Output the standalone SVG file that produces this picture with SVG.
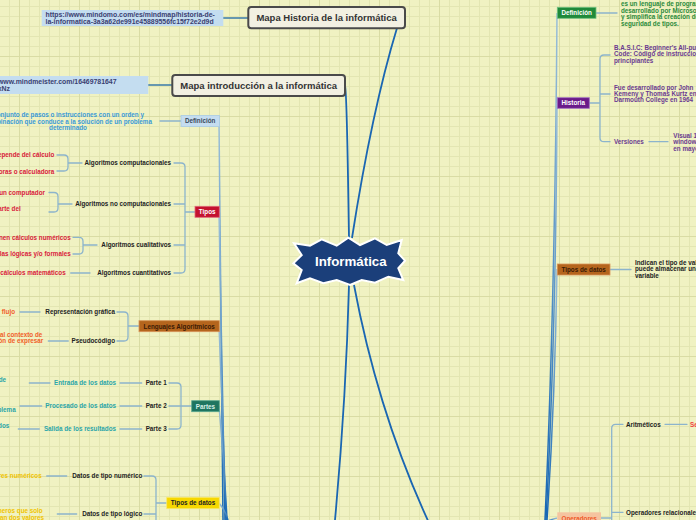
<svg xmlns="http://www.w3.org/2000/svg" width="696" height="520" viewBox="0 0 696 520">
<defs>
<pattern id="grid" width="60" height="60" patternUnits="userSpaceOnUse" x="19" y="56">
<path d="M10.5,0V60M20.5,0V60M30.5,0V60M40.5,0V60M50.5,0V60M0,10.5H60M0,20.5H60M0,30.5H60M0,40.5H60M0,50.5H60" stroke="#e3e6b2" stroke-width="1" fill="none"/>
<path d="M0.5,0V60M0,0.5H60" stroke="#d9dca4" stroke-width="1" fill="none"/>
</pattern>
<linearGradient id="gl" x1="0" y1="0" x2="0" y2="1">
<stop offset="0" stop-color="#9cc0d8"/>
<stop offset="1" stop-color="#1566b4"/>
</linearGradient>
</defs>
<style>
text{font-family:"Liberation Sans",Arial,sans-serif;font-weight:bold;font-size:6.3px}
.e{text-anchor:end}
.m{text-anchor:middle}
.blk{fill:#222}
.br{fill:none;stroke:#8cb4cc;stroke-width:1.3;stroke-linecap:round}
.main{fill:none;stroke:#1a66b2;stroke-width:1.8}
.bund{fill:none;stroke:url(#gl);stroke-width:1.5}
.lnk{fill:none;stroke:#3a7aa8;stroke-width:1.5}
.map{fill:#f2f0e2;stroke:#4a4a4a;stroke-width:2}
.mapt{font-size:9.5px;fill:#333}
.url{fill:#c4ddf0}
.urlt{font-size:6.9px;fill:#3a4070}
.red{fill:#d8203a}
.org{fill:#f0602a}
.teal{fill:#2aa5a8}
.yel{fill:#f0c400}
.grn{fill:#2a8a3a}
.pur{fill:#6a3a90}
</style>
<rect width="696" height="520" fill="#f0f2c2"/>
<rect width="696" height="520" fill="url(#grid)"/>

<g id="connectors">
<path class="main" d="M397,28 Q372,110 352,238"/>
<path class="main" d="M345,86 C347,90 348,180 349,238"/>
<path class="main" d="M349,285 Q346,400 335,520"/>
<path class="main" d="M354,285 C370,370 395,450 430,525"/>
<path class="bund" d="M219,122 Q221,330 223,520"/>
<path class="bund" d="M219,212 Q222,370 225,520"/>
<path class="bund" d="M219,326 Q223,420 226,520"/>
<path class="bund" d="M219,406 Q224,460 227,520"/>
<path class="bund" d="M219,503 Q225,510 228,520"/>
<path class="bund" d="M557,13 Q555,300 545,520"/>
<path class="bund" d="M557,103 Q556,330 546,520"/>
<path class="bund" d="M557,269 Q555,400 547,520"/>
<path class="bund" d="M557,518 Q552,519 548,521"/>
<path class="lnk" d="M223,18H248"/>
<path class="lnk" d="M148,85H172"/>
<path class="br" d="M160,121H181"/>
<path class="br" d="M174,163H181Q185,163 185,167V269Q185,273 181,273H174M174,204H185M174,245H185M185,212H195"/>
<path class="br" d="M57,155H64Q68,155 68,159V167Q68,171 64,171H57M68,163H82"/>
<path class="br" d="M49,192.5H54Q58,192.5 58,196.5V208Q58,212 54,212H49M58,204H72"/>
<path class="br" d="M73,237.3H79Q83,237.3 83,241.3V250Q83,254 79,254H73M83,245H97"/>
<path class="br" d="M70.7,273H90"/>
<path class="br" d="M117,312H124Q128,312 128,316V337Q128,341 124,341H117M128,326H139"/>
<path class="br" d="M20,312H40M48.3,341H68.3"/>
<path class="br" d="M169,383H177Q181,383 181,387V425Q181,429 177,429H169M169,406H191.7"/>
<path class="br" d="M120,383H141.7M120,406H141.7M120,429H141.7"/>
<path class="br" d="M29.3,383H50M20,406H41.7M18.3,429H39.3"/>
<path class="br" d="M144,476H152Q156,476 156,480V525M144,514H156M156,503H166.7"/>
<path class="br" d="M46.7,476H66.7M57.3,514H76.7"/>
<path class="br" d="M596,13H617"/>
<path class="br" d="M610,55H604Q600,55 600,59V137.7Q600,141.7 604,141.7H610M600,94H610M589.3,103H600"/>
<path class="br" d="M649,141.7H668"/>
<path class="br" d="M610,269.5H631"/>
<path class="br" d="M623,424.3H615.7Q611.7,424.3 611.7,428.3V525M611.7,512.3H623M601,518H611.7"/>
<path class="br" d="M665,424.3H687"/>
</g>

<g id="center">
<polygon points="294,243.3 310,245.7 321.7,239.3 336.7,245.7 348.3,237.7 360,245 375,238.3 386.7,245 401.7,240 398.3,253.3 405,260.7 398.3,268.3 403.3,280 388.3,276.7 375,282.7 361.7,280 350,285 336.7,280 323.3,283.3 310,278.3 296.7,283.3 301.7,270 293.3,263.3 301.7,255" fill="#1b3f7a" stroke="#ffffff" stroke-width="2" stroke-linejoin="miter"/>
<text class="m" x="350.8" y="266.4" style="font-size:13.3px;fill:#ffffff">Informática</text>
</g>

<g id="mapa-historia">
<rect class="map" x="248.3" y="7" width="156.7" height="21.3" rx="3"/>
<text class="m mapt" x="326.6" y="21.3">Mapa Historia de la informática</text>
</g>
<g id="url-historia">
<rect class="url" x="41.7" y="10" width="181.6" height="16"/>
<text class="urlt" x="45.5" y="16.8">https://www.mindomo.com/es/mindmap/historia-de-</text>
<text class="urlt" x="45.5" y="24">la-informatica-3a3a62de991e45889556fc15f72e2d9d</text>
</g>
<g id="mapa-intro">
<rect class="map" x="172.3" y="75" width="172.7" height="21" rx="3"/>
<text class="m mapt" x="258.7" y="89.2">Mapa introducción a la informática</text>
</g>
<g id="url-intro">
<rect class="url" x="-2" y="76" width="150.3" height="18"/>
<text class="urlt" x="-2" y="83.6">www.mindmeister.com/16469781647</text>
<text class="urlt e" x="10" y="91.2">M9xNz</text>
</g>

<g id="definicion-izq">
<rect x="181" y="115.5" width="38.5" height="11" fill="#c5ddf0" stroke="#a8cbe4" stroke-width="0.8"/>
<text class="m" x="200.2" y="123.3" fill="#3a4a5a">Definición</text>
<text class="m" x="68" y="117.2" fill="#3a9ad8">Conjunto de pasos o instrucciones con un orden y</text>
<text class="m" x="68" y="123.5" fill="#3a9ad8">combinación que conduce a la solución de un problema</text>
<text class="m" x="68" y="130" fill="#3a9ad8">determinado</text>
</g>

<g id="tipos">
<rect x="195" y="206.3" width="24.3" height="11" fill="#c4122f" stroke="#e06a7a" stroke-width="0.8"/>
<text class="m" x="207.2" y="214.1" fill="#ffffff">Tipos</text>
<text class="e blk" x="171" y="165.2">Algoritmos computacionales</text>
<text class="e blk" x="171" y="206.2">Algoritmos no computacionales</text>
<text class="e blk" x="171" y="247.2">Algoritmos cualitativos</text>
<text class="e blk" x="171" y="275.2">Algoritmos cuantitativos</text>
<text class="e red" x="54.3" y="157.2">depende del cálculo</text>
<text class="e red" x="54.3" y="173.5">computadoras o calculadora</text>
<text class="e red" x="45" y="194.9">un computador</text>
<text class="e red" x="20.7" y="211.2">parte del</text>
<text class="e red" x="70.7" y="239.5">tienen cálculos numéricos</text>
<text class="e red" x="70.7" y="256.2">reglas lógicas y/o formales</text>
<text class="e red" x="65.7" y="275.2">cálculos matemáticos</text>
</g>

<g id="lenguajes">
<rect x="139" y="320.7" width="80.3" height="11" fill="#b5651d" stroke="#d8955a" stroke-width="0.8"/>
<text class="m" x="179.2" y="328.5" fill="#3a1a05">Lenguajes Algoritmicos</text>
<text class="e blk" x="115" y="314.2">Representación gráfica</text>
<text class="e blk" x="115" y="343.2">Pseudocódigo</text>
<text class="e org" x="15" y="314.2">Diagrama de flujo</text>
<text class="e org" x="42.3" y="337.2">similar al contexto de</text>
<text class="e org" x="43.3" y="343.2">intención de expresar</text>
</g>

<g id="partes">
<rect x="191.7" y="400.7" width="27.6" height="11" fill="#1e7560" stroke="#5aa890" stroke-width="0.8"/>
<text class="m" x="205.5" y="408.5" fill="#d8f0e8">Partes</text>
<text class="e blk" x="166.7" y="385.2">Parte 1</text>
<text class="e blk" x="166.7" y="408.2">Parte 2</text>
<text class="e blk" x="166.7" y="431.2">Parte 3</text>
<text class="e teal" x="116" y="385.2">Entrada de los datos</text>
<text class="e teal" x="116" y="408.2">Procesado de los datos</text>
<text class="e teal" x="116" y="431.2">Salida de los resultados</text>
<text class="e teal" x="6" y="381.5">Ingreso de</text>
<text class="e teal" x="15.7" y="412.2">problema</text>
<text class="e teal" x="9.3" y="428">resultados</text>
</g>

<g id="tipos-datos-izq">
<rect x="166.7" y="497.3" width="52.6" height="11.4" fill="#f7d800" stroke="#f8e870" stroke-width="0.8"/>
<text class="m blk" x="193" y="505.3">Tipos de datos</text>
<text class="e blk" x="142.3" y="478.2">Datos de tipo numérico</text>
<text class="e blk" x="142.3" y="516.2">Datos de tipo lógico</text>
<text class="e yel" x="41.7" y="478.2">Valores numéricos</text>
<text class="e yel" x="42.7" y="513.2">Son números que solo</text>
<text class="e yel" x="44" y="519.5">toman dos valores</text>
</g>

<g id="definicion-der">
<rect x="557.3" y="7.3" width="38.7" height="11" fill="#1f8a3a" stroke="#70c080" stroke-width="0.8"/>
<text class="m" x="576.7" y="15.1" fill="#ffffff">Definición</text>
<text class="grn" x="621" y="6.4">es un lenguaje de programación</text>
<text class="grn" x="621" y="12.8">desarrollado por Microsoft</text>
<text class="grn" x="621" y="19.2">y simplifica la creación de</text>
<text class="grn" x="621" y="25.6">seguridad de tipos.</text>
</g>

<g id="historia">
<rect x="557.3" y="97.7" width="32" height="10.6" fill="#6a1a8a" stroke="#a070c0" stroke-width="0.8"/>
<text class="m" x="573.3" y="105.3" fill="#ffffff">Historia</text>
<text class="pur" x="614" y="49.9">B.A.S.I.C: Beginner's All-purpose</text>
<text class="pur" x="614" y="56.4">Code: Código de instrucciones</text>
<text class="pur" x="614" y="63">principiantes</text>
<text class="pur" x="614" y="89.5">Fue desarrollado por John</text>
<text class="pur" x="614" y="95.6">Kemeny y Thomas Kurtz en</text>
<text class="pur" x="614" y="101.7">Darmouth College en 1964</text>
<text class="pur" x="614" y="143.9">Versiones</text>
<text class="pur" x="673.3" y="138.2">Visual 1.0</text>
<text class="pur" x="673.3" y="144.4">windows</text>
<text class="pur" x="673.3" y="150.9">en mayo</text>
</g>

<g id="tipos-datos-der">
<rect x="557.3" y="264" width="52.7" height="11" fill="#b5651d" stroke="#d8955a" stroke-width="0.8"/>
<text class="m" x="583.7" y="271.8" fill="#3a1a05">Tipos de datos</text>
<text class="blk" x="635" y="264.8">Indican el tipo de valor que</text>
<text class="blk" x="635" y="271.4">puede almacenar una</text>
<text class="blk" x="635" y="278">variable</text>
</g>

<g id="operadores">
<rect x="557.3" y="512.3" width="43.7" height="12" fill="#f5c4a0"/>
<text class="m" x="579.2" y="520.6" fill="#f05a28">Operadores</text>
<text class="blk" x="626" y="426.5">Aritméticos</text>
<text class="blk" x="626" y="514.5">Operadores relacionales</text>
<text x="690" y="426.5" fill="#f04040">Se</text>
</g>
</svg>
